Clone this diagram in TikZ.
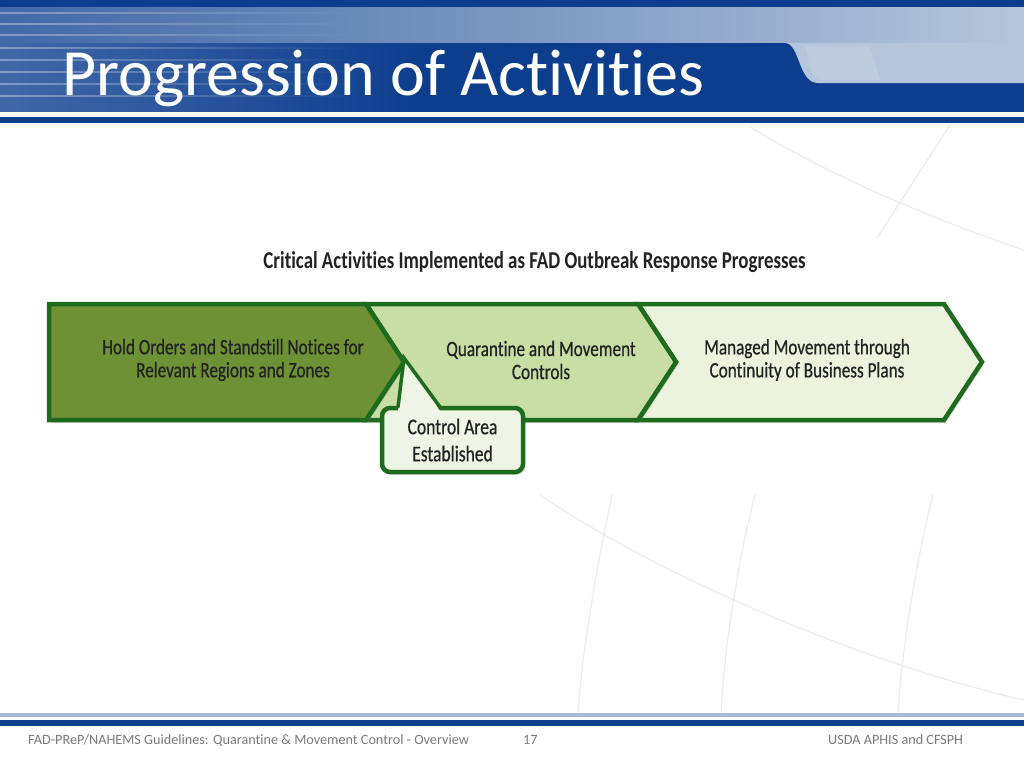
\documentclass[tikz,border=0pt]{standalone}
\usepackage{fontspec}
\setmainfont{Carlito}[Ligatures=NoCommon]
\newfontfamily\cond[FakeStretch=0.78, FakeBold=0.5, Ligatures=NoCommon]{Carlito}
\newfontfamily\condb[FakeStretch=0.78, Ligatures=NoCommon]{Carlito Bold}
\usetikzlibrary{shadows,fadings}
\definecolor{dblue}{HTML}{0D3E8E}
\definecolor{lblue}{HTML}{B6C6DA}
\definecolor{mblue}{HTML}{4169A8}
\definecolor{fline}{HTML}{AAB8D0}
\definecolor{gborder}{HTML}{1E6B1E}
\definecolor{gdark}{HTML}{6E9135}
\definecolor{gmid}{HTML}{C8DEA5}
\definecolor{glight}{HTML}{EBF3DE}
\definecolor{gcall}{HTML}{EEF5E6}
\definecolor{txt}{HTML}{222222}
\definecolor{foot}{HTML}{7A7A7A}
\definecolor{globe}{HTML}{ECECEC}
\tikzset{
  chev/.style={draw=gborder, line width=4.5pt, line join=miter,
    drop shadow={opacity=0.22, shadow xshift=2pt, shadow yshift=-3pt}},
  lbl/.style={font=\cond\fontsize{22}{23}\selectfont, text=txt, align=center, inner sep=0pt},
  calbox/.style={draw=gborder, fill=gcall, line width=4.5pt, rounded corners=8pt,
    minimum width=141pt, minimum height=64pt, inner sep=0pt, align=center,
    text=txt, font=\cond\fontsize{22.5}{27}\selectfont,
    drop shadow={opacity=0.22, shadow xshift=2pt, shadow yshift=-3pt}},
  footer/.style={font=\fontsize{14.2}{16}\selectfont, text=foot, inner sep=0pt},
  globeline/.style={draw=globe, line width=1.2pt},
}
\begin{document}
\begin{tikzpicture}[x=1pt, y=-1pt]
\useasboundingbox (0,0) rectangle (1024,768);
\fill[white] (0,0) rectangle (1024,768);
% background globe lines
\draw[globeline] (540,495) .. controls (650,570) and (850,660) .. (1024,700);
\draw[globeline] (612,495) .. controls (598,560) and (582,650) .. (578,712);
\draw[globeline] (755,495) .. controls (738,560) and (724,650) .. (721,712);
\draw[globeline] (933,495) .. controls (916,560) and (902,650) .. (898,712);
\draw[globeline] (750,127) .. controls (820,170) and (920,215) .. (1024,250);
\draw[globeline] (950,125) -- (877,238);
% header
\fill[dblue] (0,0) rectangle (1024,112);
\shade[left color=mblue, right color=lblue] (0,8) rectangle (1024,43);
\fill[lblue] (785,43) .. controls (800,43) and (798,83) .. (818,83) -- (1024,83) -- (1024,43) -- cycle;
\fill[white, opacity=0.12] (805,47) .. controls (810,60) and (808,80) .. (822,80) -- (880,80) -- (870,47) -- cycle;
\fill[mblue, path fading=east] (0,43) rectangle (420,112);
\foreach \yy in {12,23,34,47,59,71,83,95} {
  \fill[white, opacity=0.35, path fading=east] (0,\yy) rectangle (360,\yy+2);
}
\fill[white] (0,112) rectangle (1024,117);
\fill[dblue] (0,117) rectangle (1024,123);
\node[anchor=base west, text=white, font=\fontsize{66}{70}\selectfont, inner sep=0pt] (title) at (62,95) {Progression of Activities};
% subtitle
\node[font=\condb\fontsize{24.2}{26}\selectfont, text=txt, inner sep=0pt] (sub) at (534.5,262) {Critical Activities Implemented as FAD Outbreak Response Progresses};
% chevrons
\path[chev, fill=glight] (638,304) -- (944,304) -- (982,362) -- (944,420) -- (638,420) -- (676,362) -- cycle;
\path[chev, fill=gmid] (366,304) -- (638,304) -- (676,362) -- (638,420) -- (366,420) -- (404,362) -- cycle;
\path[chev, fill=gdark] (49,304) -- (366,304) -- (404,362) -- (366,420) -- (49,420) -- cycle;
\node[lbl] (hold) at (233,360) {Hold Orders and Standstill Notices for\\Relevant Regions and Zones};
\node[lbl] (quar) at (541,360) {Quarantine and Movement\\Controls};
\node[lbl] (mana) at (807,360) {Managed Movement through\\Continuity of Business Plans};
% callout
\node[calbox] (ctrl) at (452.5,440) {Control Area\\Established};
\coordinate (tip) at (404,358);
\fill[gcall] (398,411) -- (tip) -- (440,411) -- cycle;
\draw[gborder, line width=3.5pt, line cap=round] (398,407) -- (tip) -- (440,407);
% footer
\fill[fline] (0,713) rectangle (1024,717);
\fill[dblue] (0,720) rectangle (1024,726);
\node[footer, anchor=west] (f1) at (28,740) {FAD-PReP/NAHEMS Guidelines: Quarantine \& Movement Control - Overview};
\node[footer, anchor=west] (f2) at (523,740) {17};
\node[footer, anchor=west] (f3) at (828,740) {USDA APHIS and CFSPH};
\end{tikzpicture}
\end{document}
